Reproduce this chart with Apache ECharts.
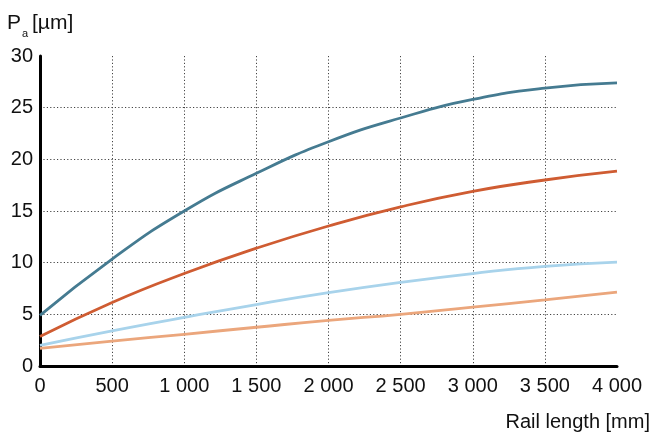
<!DOCTYPE html>
<html><head><meta charset="utf-8">
<script src="https://cdn.jsdelivr.net/npm/echarts@6/dist/echarts.min.js"></script>
<style>html,body{margin:0;padding:0;background:#fff}#c{width:651px;height:432px}</style>
</head><body><div id="c"></div>
<script>
const railLength = [0, 500, 1000, 1500, 2000, 2500, 3000, 3500, 4000];
const seriesDarkBlue = [4.9, 10.35, 15.0, 18.65, 21.7, 24.0, 25.8, 26.9, 27.4];
const seriesRed = [2.85, 6.15, 8.95, 11.4, 13.55, 15.4, 16.9, 18.0, 18.85];
const seriesLightBlue = [2.0, 3.4, 4.7, 5.95, 7.1, 8.1, 8.95, 9.65, 10.05];
const seriesLightOrange = [1.7, 2.4, 3.07, 3.75, 4.42, 5.0, 5.7, 6.4, 7.15];
const xAxisTitle = 'Rail length [mm]';
const yAxisTitle = ['P', 'a', '[µm]'];
const colors = ['#457b91', '#cf5c32', '#a8d3eb', '#eba67c'];
const font = '"Liberation Sans", Arial, Helvetica, sans-serif';

function pairs(v){ return railLength.map((x,i)=>[x, v[i]]); }
function mk(v, c){ return {type:'line', data:pairs(v), smooth:0.5, showSymbol:false, lineStyle:{color:c, width:2.8}, itemStyle:{color:c}}; }

const chart = echarts.init(document.getElementById('c'), null, {renderer:'canvas'});
const split = {show:true, showMaxLine:false, lineStyle:{type:[1.2,2.2], color:'#444', width:1}};
const txt = (s, size, x, y, align) => ({type:'text', x:x, y:y, style:{text:s, fontSize:size, fontFamily:font, fill:'#111', align:align||'left', verticalAlign:'top'}});
chart.setOption({
  animation:false,
  grid: {left:40, right:34, top:56, bottom:66},
  xAxis: {type:'value', min:0, max:4000, interval:500,
    axisLine:{show:true, onZero:false, lineStyle:{color:'#000', width:3}},
    axisTick:{show:false},
    axisLabel:{margin:10, color:'#111', fontSize:20, fontFamily:font,
      formatter:v=> v>=1000 ? String(Math.floor(v/1000))+' '+String(v%1000).padStart(3,'0') : String(v)},
    splitLine: split
  },
  yAxis: {type:'value', min:0, max:30, interval:5,
    axisLine:{show:true, onZero:false, lineStyle:{color:'#000', width:3}},
    axisTick:{show:false},
    axisLabel:{margin:7, color:'#111', fontSize:20, fontFamily:font},
    splitLine: split
  },
  graphic:[
    txt(yAxisTitle[0], 21, 7, 13),
    txt(yAxisTitle[1], 11, 22, 28),
    txt(yAxisTitle[2], 21, 32, 13),
    txt(xAxisTitle, 20, 650, 412, 'right')
  ],
  series:[mk(seriesDarkBlue, colors[0]), mk(seriesRed, colors[1]), mk(seriesLightBlue, colors[2]), mk(seriesLightOrange, colors[3])]
});
</script></body></html>
